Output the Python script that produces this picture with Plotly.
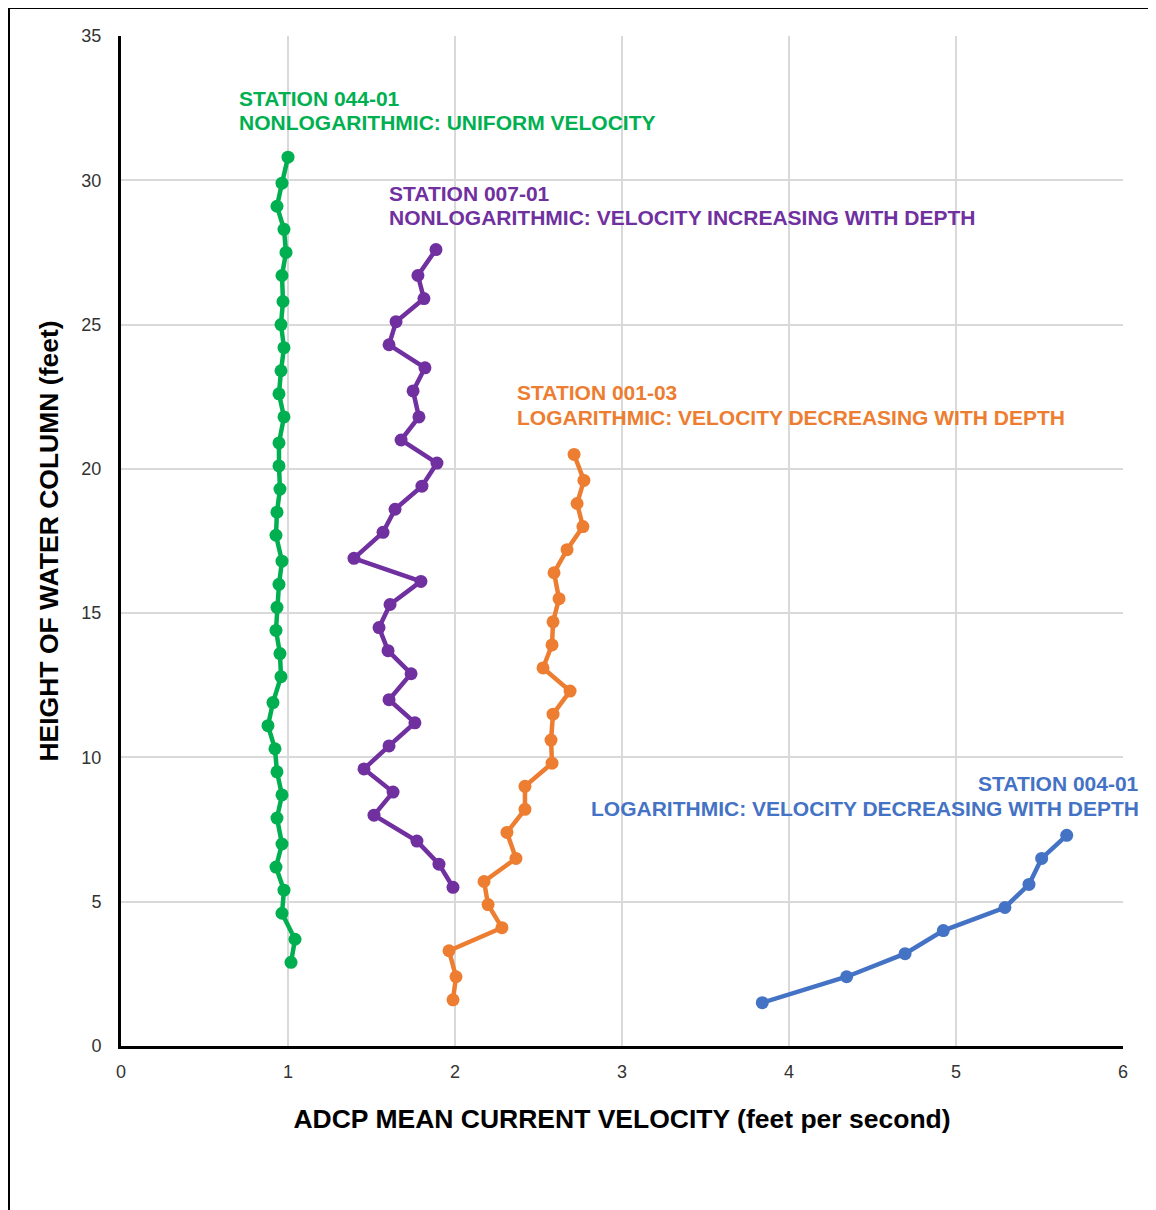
import plotly.graph_objects as go

# Station 044-01 (green)
g_x = [1.018, 1.042, 0.964, 0.976, 0.928, 0.964, 0.934, 0.964, 0.934, 0.922, 0.880, 0.910,
       0.958, 0.952, 0.928, 0.934, 0.946, 0.964, 0.928, 0.934, 0.952, 0.946, 0.946, 0.976,
       0.946, 0.958, 0.976, 0.958, 0.970, 0.964, 0.988, 0.976, 0.934, 0.964, 1.000]
g_y = [2.9, 3.7, 4.6, 5.4, 6.2, 7.0, 7.9, 8.7, 9.5, 10.3, 11.1, 11.9, 12.8, 13.6, 14.4, 15.2,
       16.0, 16.8, 17.7, 18.5, 19.3, 20.1, 20.9, 21.8, 22.6, 23.4, 24.2, 25.0, 25.8, 26.7,
       27.5, 28.3, 29.1, 29.9, 30.8]

# Station 007-01 (purple)
p_x = [1.988, 1.904, 1.772, 1.515, 1.629, 1.455, 1.605, 1.760, 1.605, 1.737, 1.599, 1.545,
       1.611, 1.796, 1.395, 1.569, 1.641, 1.802, 1.892, 1.677, 1.784, 1.749, 1.820, 1.605,
       1.647, 1.814, 1.778, 1.886]
p_y = [5.5, 6.3, 7.1, 8.0, 8.8, 9.6, 10.4, 11.2, 12.0, 12.9, 13.7, 14.5, 15.3, 16.1, 16.9,
       17.8, 18.6, 19.4, 20.2, 21.0, 21.8, 22.7, 23.5, 24.3, 25.1, 25.9, 26.7, 27.6]

# Station 001-03 (orange)
o_x = [1.988, 2.006, 1.964, 2.281, 2.198, 2.174, 2.365, 2.311, 2.419, 2.419, 2.581, 2.575,
       2.587, 2.689, 2.527, 2.581, 2.587, 2.623, 2.593, 2.671, 2.766, 2.731, 2.772, 2.713]
o_y = [1.6, 2.4, 3.3, 4.1, 4.9, 5.7, 6.5, 7.4, 8.2, 9.0, 9.8, 10.6, 11.5, 12.3, 13.1, 13.9,
       14.7, 15.5, 16.4, 17.2, 18.0, 18.8, 19.6, 20.5]

# Station 004-01 (blue)
b_x = [3.840, 4.345, 4.695, 4.924, 5.293, 5.437, 5.513, 5.663]
b_y = [1.5, 2.4, 3.2, 4.0, 4.8, 5.6, 6.5, 7.3]

x_ticks = [0, 1, 2, 3, 4, 5, 6]
y_ticks = [0, 5, 10, 15, 20, 25, 30, 35]

GREEN = "#00B050"
PURPLE = "#7030A0"
ORANGE = "#ED7D31"
BLUE = "#4472C4"

fig = go.Figure()
for xs, ys, c in [(g_x, g_y, GREEN), (p_x, p_y, PURPLE), (o_x, o_y, ORANGE), (b_x, b_y, BLUE)]:
    fig.add_trace(go.Scatter(x=xs, y=ys, mode="lines+markers",
                             line=dict(color=c, width=4.5),
                             marker=dict(color=c, size=13),
                             showlegend=False, cliponaxis=False))

FONT = "Liberation Sans, Arial, sans-serif"
OFF = 8  # page body offset
W, H = 1156 - OFF, 1210 - OFF
L, R, T, B = 121 - OFF, 33, 36 - OFF, 164
pw, ph = W - L - R, H - T - B

def px(xp):
    return (xp - OFF - L) / pw

def py(yp):
    return 1 - (yp - OFF - T) / ph

labels = [
    ("STATION 044-01", 238, 98, "left", GREEN),
    ("NONLOGARITHMIC: UNIFORM VELOCITY", 238, 123, "left", GREEN),
    ("STATION 007-01", 388, 193, "left", PURPLE),
    ("NONLOGARITHMIC: VELOCITY INCREASING WITH DEPTH", 388, 218, "left", PURPLE),
    ("STATION 001-03", 516, 392, "left", ORANGE),
    ("LOGARITHMIC: VELOCITY DECREASING WITH DEPTH", 516, 417, "left", ORANGE),
    ("STATION 004-01", 1140, 783, "right", BLUE),
    ("LOGARITHMIC: VELOCITY DECREASING WITH DEPTH", 1140, 808, "right", BLUE),
]
annotations = []
for txt, xp, yp, al, c in labels:
    annotations.append(dict(text="<b>" + txt + "</b>", x=px(xp), y=py(yp), xref="paper", yref="paper",
                            xanchor=al, yanchor="middle", align=al, showarrow=False,
                            borderpad=0, font=dict(family=FONT, size=21, color=c)))

fig.update_layout(
    width=W, height=H,
    margin=dict(l=L, r=R, t=T, b=B),
    paper_bgcolor="white", plot_bgcolor="white",
    font=dict(family=FONT, color="#333333"),
    annotations=annotations,
    xaxis=dict(range=[0, 6], tickvals=x_ticks, ticks="", showgrid=True, gridcolor="#D9D9D9",
               gridwidth=1.5, zeroline=False, showline=True, linecolor="black", linewidth=3,
               tickfont=dict(size=18, color="#333333", family=FONT), ticklabelstandoff=7,
               title=dict(text="<b>ADCP MEAN CURRENT VELOCITY (feet per second)</b>",
                          font=dict(size=26.5, color="black", family=FONT), standoff=29)),
    yaxis=dict(range=[0, 35], tickvals=y_ticks, ticks="", showgrid=True, gridcolor="#D9D9D9",
               gridwidth=1.5, zeroline=False, showline=True, linecolor="black", linewidth=3,
               tickfont=dict(size=18, color="#333333", family=FONT), ticklabelstandoff=13,
               title=dict(text="<b>HEIGHT OF WATER COLUMN (feet)</b>",
                          font=dict(size=26.5, color="black", family=FONT), standoff=16)),
    shapes=[dict(type="rect", xref="paper", yref="paper",
                 x0=px(9), x1=px(1250), y0=py(1300), y1=py(8),
                 line=dict(color="black", width=2), fillcolor="rgba(0,0,0,0)", layer="below")],
)

fig.write_html("out.html")
